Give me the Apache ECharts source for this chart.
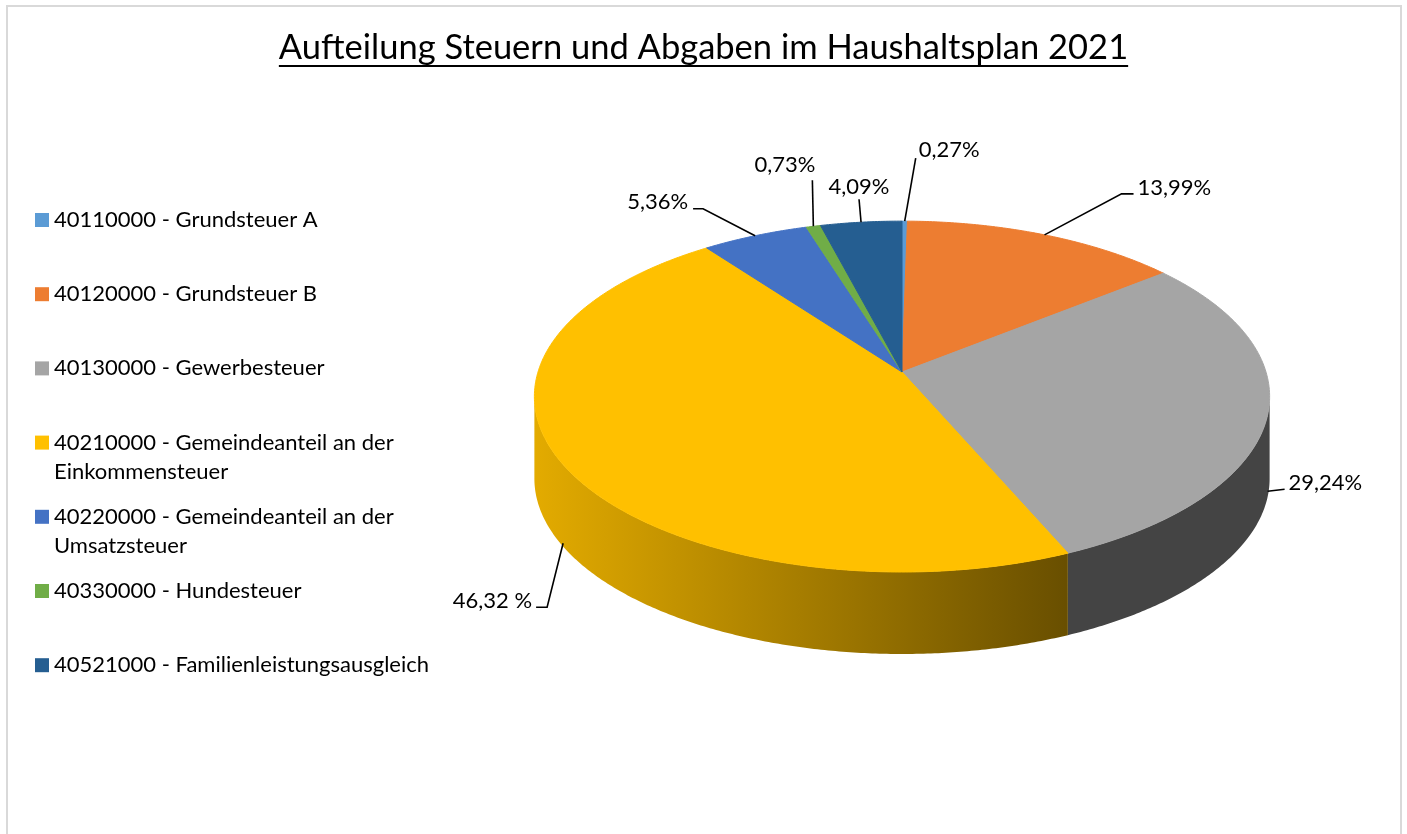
<!DOCTYPE html>
<html>
<head>
<meta charset="utf-8">
<title>Aufteilung Steuern und Abgaben im Haushaltsplan 2021</title>
<script src="https://cdn.jsdelivr.net/npm/echarts@6.0.0/dist/echarts.min.js"></script>
<style>
  html, body { margin: 0; padding: 0; background: #fff; }
  #main { width: 1407px; height: 834px; }
  #frame { position: absolute; left: 6px; top: 5px; width: 1396px; height: 900px;
           border: 2px solid #d9d9d9; box-sizing: border-box; pointer-events: none; }
</style>
</head>
<body>
<div id="main"></div>
<div id="frame"></div>
<script>
// Daten
const titleText = 'Aufteilung Steuern und Abgaben im Haushaltsplan 2021';
const accounts = [
  '40110000 - Grundsteuer A',
  '40120000 - Grundsteuer B',
  '40130000 - Gewerbesteuer',
  '40210000 - Gemeindeanteil an der Einkommensteuer',
  '40220000 - Gemeindeanteil an der Umsatzsteuer',
  '40330000 - Hundesteuer',
  '40521000 - Familienleistungsausgleich'
];
const shares = [0.27, 13.99, 29.24, 46.32, 5.36, 0.73, 4.09];   // Prozent
const shareLabels = ['0,27%', '13,99%', '29,24%', '46,32 %', '5,36%', '0,73%', '4,09%'];

// Farben (Office-Palette)
const colors = ['#5b9bd5', '#ed7d31', '#a5a5a5', '#ffc000', '#4472c4', '#70ad47', '#255e91'];

// 3D-Torte: Mittelpunkt, Radien, Perspektive, Hoehe der Seitenwand
const pie3d = { cx: 902, cy: 372, rx: 364, ry: 172, persp: 0.14, depth: 82 };
const wallFrom = Math.acos(-pie3d.persp) * 180 / Math.PI;   // sichtbare Seitenwand
const wallTo = 360 - wallFrom;

// Beschriftungen: Ankerhoehe auf der Wand (0..1), Knickpunkte, Textversatz
const labelLayout = [
  { depth: 0,    path: [[11, -63]],             text: [14, -71],   align: 'left' },
  { depth: 0,    path: [[77, -41], [89, -41]],  text: [93, -47],   align: 'left' },
  { depth: 0.93, path: [[17, -2]],              text: [21, -8],    align: 'left' },
  { depth: 0.96, path: [[-16, 64], [-27, 64]],  text: [-31, 58],   align: 'right' },
  { depth: 0,    path: [[-52, -27], [-62, -27]], text: [-67, -34], align: 'right' },
  { depth: 0,    path: [[-1, -46]],             text: [2, -61],    align: 'right' },
  { depth: 0,    path: [[-2, -23]],             text: [-2, -35],   align: 'center' }
];

function project(deg, drop) {
  const t = deg * Math.PI / 180;
  const g = 1 + pie3d.persp * Math.cos(t);
  return [pie3d.cx + pie3d.rx * Math.sin(t) / g,
          pie3d.cy - pie3d.ry * Math.cos(t) / g + (drop || 0)];
}

function arc(a0, a1, drop) {
  const pts = [];
  const n = Math.max(2, Math.ceil((a1 - a0) / 0.5));
  for (let k = 0; k <= n; k++) pts.push(project(a0 + (a1 - a0) * k / n, drop));
  return pts;
}

// Farbe abdunkeln (Faktor 0..1)
function shade(color, f) {
  const c = echarts.color.parse(color);
  return 'rgb(' + Math.round(c[0] * f) + ',' + Math.round(c[1] * f) + ',' + Math.round(c[2] * f) + ')';
}

function wallFill(color) {
  return {
    type: 'linear', global: true,
    x: pie3d.cx - pie3d.rx * 1.01, y: 0, x2: pie3d.cx + pie3d.rx * 0.45, y2: 0,
    colorStops: [
      { offset: 0, color: shade(color, 0.89) },
      { offset: 1, color: shade(color, 0.41) }
    ]
  };
}

function renderSlice(params, api) {
  const i = params.dataIndex;
  const total = shares.reduce((a, b) => a + b, 0);
  let before = 0;
  for (let k = 0; k < i; k++) before += shares[k];
  const a0 = before / total * 360;
  const a1 = (before + api.value(0)) / total * 360;
  const color = api.visual('color');
  const children = [];

  // Seitenwand
  const lo = Math.max(a0, wallFrom), hi = Math.min(a1, wallTo);
  if (hi > lo) {
    const pts = arc(lo, hi, 0).concat(arc(lo, hi, pie3d.depth).reverse());
    children.push({ type: 'polygon', z2: 1, shape: { points: pts },
      style: { fill: wallFill(color) } });
  }
  // Deckflaeche
  children.push({ type: 'polygon', z2: 2,
    shape: { points: [[pie3d.cx, pie3d.cy]].concat(arc(a0, a1, 0)) },
    style: { fill: color, stroke: color, lineWidth: 1, lineJoin: 'round' } });

  // Beschriftung mit Fuehrungslinie
  const L = labelLayout[i];
  const anchor = project((a0 + a1) / 2, L.depth * pie3d.depth);
  const line = [anchor].concat(L.path.map(p => [anchor[0] + p[0], anchor[1] + p[1]]));
  children.push({ type: 'polyline', z2: 3, shape: { points: line },
    style: { stroke: '#000', lineWidth: 1.6, fill: null } });
  children.push({ type: 'text', z2: 4,
    x: anchor[0] + L.text[0], y: anchor[1] + L.text[1],
    style: { text: shareLabels[i], align: L.align, verticalAlign: 'middle',
             font: '22px Lato', fill: '#000' } });

  return { type: 'group', children: children };
}

const chart = echarts.init(document.getElementById('main'));

// Breite des Titels fuer die Unterstreichung
const titleSize = 34.5;
const ctx = document.createElement('canvas').getContext('2d');
ctx.font = titleSize + 'px Lato';
const titleW = ctx.measureText(titleText).width;
const W = 1407;

const legendCenters = [220, 294.2, 368.4, 442.6, 516.8, 591, 665.2];

const option = {
  backgroundColor: '#fff',
  animation: false,
  title: {
    text: titleText,
    left: 'center',
    top: 25,
    textStyle: { fontFamily: 'Lato', fontSize: titleSize, fontWeight: 'normal', color: '#000' }
  },
  graphic: [{
    type: 'line', silent: true,
    shape: { x1: W / 2 - titleW / 2, y1: 66, x2: W / 2 + titleW / 2, y2: 66 },
    style: { stroke: '#000', lineWidth: 2 }
  }],
  legend: accounts.map((name, i) => {
    const wrap = name.indexOf(' an der ') > 0;
    return {
      data: [name],
      orient: 'vertical',
      left: 35,
      top: legendCenters[i] - (wrap ? 43.5 : 14.5),
      padding: 0,
      itemWidth: 14,
      itemHeight: 14,
      icon: 'rect',
      selectedMode: false,
      // Umbruch wie im Original; Leerzeile oben haelt das Symbol auf Zeile 1
      formatter: n => (wrap ? '\n' : '') + n.replace(' an der ', ' an der\n'),
      textStyle: { fontFamily: 'Lato', fontSize: 22, color: '#000', lineHeight: 29 }
    };
  }),
  series: [
    {
      // nur fuer die Legende
      type: 'pie',
      name: 'Legende',
      radius: [0, 0],
      silent: true,
      label: { show: false },
      labelLine: { show: false },
      itemStyle: { borderWidth: 0 },
      data: accounts.map((n, i) => ({ name: n, value: shares[i], itemStyle: { color: colors[i] } }))
    },
    {
      type: 'custom',
      name: 'Anteile',
      coordinateSystem: 'none',
      renderItem: renderSlice,
      data: shares.map((v, i) => ({ value: v, itemStyle: { color: colors[i] } }))
    }
  ]
};

chart.setOption(option);
</script>
</body>
</html>
